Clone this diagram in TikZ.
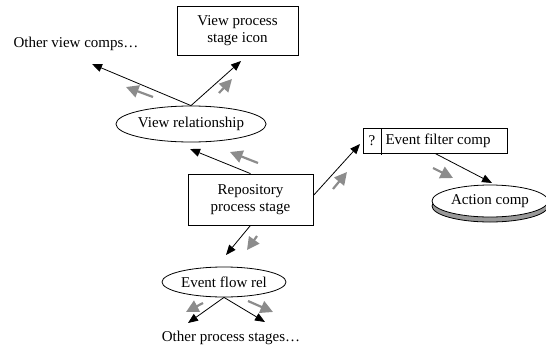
\documentclass[tikz,border=0pt]{standalone}
\usepackage{fontspec}
\setmainfont{Liberation Serif}
\usetikzlibrary{arrows.meta,shapes.geometric,shadows}
\begin{document}
\begin{tikzpicture}[x=1pt,y=-1pt,
  every node/.style={font=\fontsize{15}{17.5}\selectfont},
  box/.style={draw,line width=0.8pt,align=center,inner sep=0pt},
  oval/.style={draw,ellipse,line width=0.8pt,inner sep=0pt},
  link/.style={line width=0.8pt,-{Triangle[length=10pt,width=8pt]}},
  flow/.style={line width=2.2pt,draw=black!45,-{Triangle[length=12.5pt,width=12.5pt,fill=black!45]}},
  lbl/.style={inner sep=0pt}]
\useasboundingbox (0,0) rectangle (546,351);
% nodes
\node[box,minimum width=121pt,minimum height=49pt] (viewicon) at (237.5,30.5) {View process\\stage icon};
\node[lbl] (otherview) at (76,44) {Other view comps\ldots};
\node[oval,minimum width=142pt,minimum height=36pt] (viewrel) at (191,124) {View relationship};
\node[box,minimum width=125pt,minimum height=51pt] (repo) at (250.5,199.5) {Repository\\process stage};
\node[oval,minimum width=124pt,minimum height=30pt] (eventflow) at (224,282) {Event flow rel};
\node[lbl] (otherproc) at (231,338) {Other process stages\ldots};
\node[box,minimum width=144pt,minimum height=25pt] (filter) at (435,140.5) {};
\node[lbl] (q) at (372,140.5) {?};
\node[lbl] (filtertext) at (438,141) {Event filter comp};
\draw[line width=0.8pt] (381,128) -- (381,155);
\node[oval,fill=white,minimum width=116pt,minimum height=32pt,
  general shadow={shadow xshift=0pt,shadow yshift=-5pt,fill=black!40,draw=black,line width=0.8pt}] (action) at (490,201) {Action comp};
% free ends
\coordinate (ovend) at (92,64);
\coordinate (viend) at (241,61);
\coordinate (vrend) at (190,149);
\coordinate (efend) at (226,255);
\coordinate (opl) at (188,323);
\coordinate (opr) at (265,322);
\coordinate (fend) at (360,144);
\coordinate (aend) at (492,183);
% connectors
\draw[link] (viewrel.north) -- (ovend);
\draw[link] (viewrel.north) -- (viend);
\draw[link] (repo.north) -- (vrend);
\draw[link] (repo.south) -- (efend);
\draw[link] (eventflow.south) -- (opl);
\draw[link] (eventflow.south) -- (opr);
\draw[link] ([yshift=4pt]repo.east) -- (fend);
\draw[link] (filter.south) -- (aend);
% flow markers
\draw[flow] (153,97) -- (126,87);
\draw[flow] (219,93) -- (232,79);
\draw[flow] (258,163) -- (230,152);
\draw[flow] (257,236) -- (247,250);
\draw[flow] (203,303) -- (186,312);
\draw[flow] (248,301) -- (273,312);
\draw[flow] (333,189) -- (347,172);
\draw[flow] (433,168) -- (453,178);
\end{tikzpicture}
\end{document}
